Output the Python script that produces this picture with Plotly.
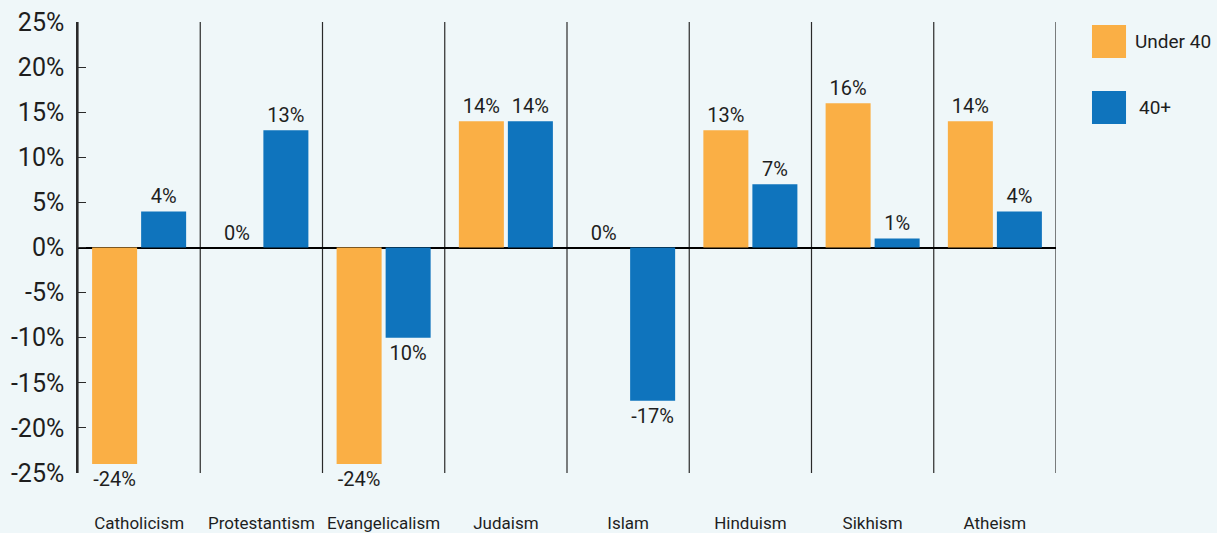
import plotly.graph_objects as go

# Change in share by religion, split by age group
categories = ["Catholicism", "Protestantism", "Evangelicalism", "Judaism",
              "Islam", "Hinduism", "Sikhism", "Atheism"]
under_40 = [-24, 0, -24, 14, 0, 13, 16, 14]
over_40 = [4, 13, -10, 14, -17, 7, 1, 4]
under_40_labels = ["-24%", "0%", "-24%", "14%", "0%", "13%", "16%", "14%"]
over_40_labels = ["4%", "13%", "10%", "14%", "-17%", "7%", "1%", "4%"]
series_names = ["Under 40", "40+"]
y_ticks = [-25, -20, -15, -10, -5, 0, 5, 10, 15, 20, 25]
y_tick_labels = ["-25%", "-20%", "-15%", "-10%", "-5%", "0%", "5%", "10%", "15%", "20%", "25%"]

ORANGE = "#FAAF45"
BLUE = "#0F74BD"
BG = "#EFF7F9"
INK = "#1E1E1E"
FONT = "Roboto, DejaVu Sans Condensed, sans-serif"

fig = go.Figure()
for name, vals, labels, color in [
    (series_names[0], under_40, under_40_labels, ORANGE),
    (series_names[1], over_40, over_40_labels, BLUE),
]:
    fig.add_trace(go.Bar(
        x=categories, y=vals, name=name, marker_color=color,
        marker_line_width=0,
        text=labels, textposition="outside", constraintext="none",
        textfont=dict(family=FONT, size=20, color=INK),
        cliponaxis=False, showlegend=False,
    ))

# Vertical separators between categories
shapes = []
for i in range(len(categories) + 1):
    shapes.append(dict(type="line", xref="x", yref="y",
                       x0=i - 0.5, x1=i - 0.5, y0=-25, y1=25,
                       line=dict(color="#2a2a2a", width=1.2), layer="below"))

# Legend swatches drawn as squares beside the plot
legend_items = [(series_names[0], ORANGE, 0.9202, 0.9933, 1.0787),
                (series_names[1], BLUE, 0.7738, 0.8470, 1.0828)]
annotations = []
for name, color, y0, y1, tx in legend_items:
    shapes.append(dict(type="rect", xref="paper", yref="paper",
                       x0=1.0368, x1=1.0716, y0=y0, y1=y1,
                       fillcolor=color, line=dict(width=0)))
    annotations.append(dict(xref="paper", yref="paper", x=tx, y=(y0 + y1) / 2,
                            text=name, showarrow=False, xanchor="left",
                            yanchor="middle",
                            font=dict(family=FONT, size=19, color=INK)))

fig.update_layout(
    width=1217, height=533,
    margin=dict(l=78, r=161, t=22, b=60),
    paper_bgcolor=BG, plot_bgcolor=BG,
    barmode="group", bargap=0.198, bargroupgap=0.082,
    shapes=shapes, annotations=annotations,
    xaxis=dict(range=[-0.5, len(categories) - 0.5], showgrid=False,
               showline=False, zeroline=False, ticks="",
               tickangle=0, automargin=False,
               ticklabelstandoff=38,
               tickfont=dict(family=FONT, size=17, color=INK)),
    yaxis=dict(range=[-25, 25], tickvals=y_ticks, ticktext=y_tick_labels,
               automargin=False, ticklabelstandoff=7,
               showgrid=False, showline=True, linecolor="#2a2a2a", linewidth=1.5,
               ticks="inside", ticklen=8, tickcolor="#2a2a2a", tickwidth=1.2,
               zeroline=True, zerolinecolor="#000000", zerolinewidth=1.5,
               tickfont=dict(family=FONT, size=25, color=INK)),
)

fig.write_html("out.html")
